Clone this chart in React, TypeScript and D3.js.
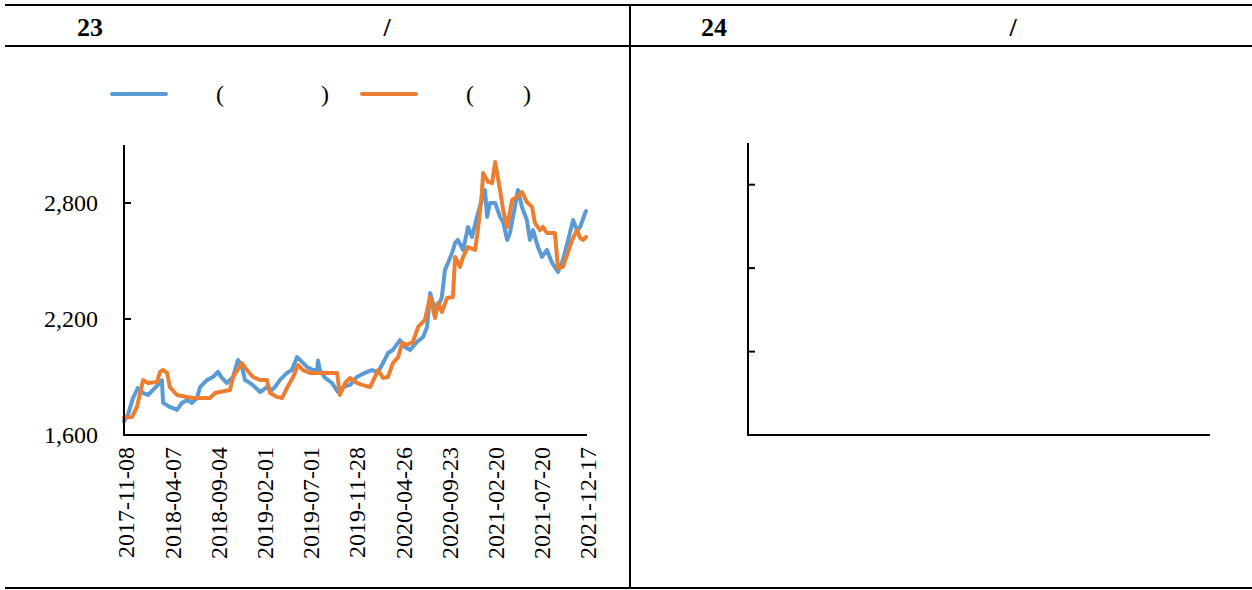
import React from "react";
import * as d3 from "d3";

const headers = [
  { num: "23", slash: "/" },
  { num: "24", slash: "/" },
];

const xTickLabels = [
  "2017-11-08", "2018-04-07", "2018-09-04", "2019-02-01", "2019-07-01", "2019-11-28",
  "2020-04-26", "2020-09-23", "2021-02-20", "2021-07-20", "2021-12-17",
];

const yTicks = [1600, 2200, 2800];
const emptyTicks = [0, 1, 2, 3];

const legendItems = [
  { color: "#5B9BD5", open: "(", close: ")", gap: 105 },
  { color: "#ED7D31", open: "(", close: ")", gap: 57 },
];

const blueSeries: [string, number][] = [
  ["2017-11-08", 1672], ["2017-11-20", 1700], ["2017-12-07", 1791], ["2017-12-23", 1843],
  ["2018-01-09", 1817], ["2018-01-25", 1807], ["2018-02-10", 1833], ["2018-02-26", 1859],
  ["2018-03-11", 1884], ["2018-03-15", 1766], ["2018-04-06", 1745], ["2018-04-29", 1730],
  ["2018-05-15", 1766], ["2018-06-01", 1781], ["2018-06-17", 1766], ["2018-07-03", 1791],
  ["2018-07-13", 1848], ["2018-08-04", 1884], ["2018-08-24", 1900], ["2018-09-09", 1926],
  ["2018-09-22", 1895], ["2018-10-08", 1869], ["2018-10-28", 1900], ["2018-11-13", 1988],
  ["2018-11-26", 1952], ["2018-12-06", 1884], ["2018-12-22", 1869], ["2019-01-07", 1848],
  ["2019-01-24", 1822], ["2019-02-15", 1848], ["2019-03-04", 1833], ["2019-03-13", 1848],
  ["2019-03-29", 1884], ["2019-04-21", 1921], ["2019-05-07", 1936], ["2019-05-24", 2003],
  ["2019-06-09", 1978], ["2019-06-25", 1952], ["2019-07-15", 1936], ["2019-07-28", 1936],
  ["2019-07-31", 1985], ["2019-08-06", 1936], ["2019-08-23", 1895], ["2019-09-14", 1869],
  ["2019-10-04", 1822], ["2019-10-20", 1848], ["2019-11-12", 1859], ["2019-12-04", 1900],
  ["2019-12-30", 1921], ["2020-01-22", 1936], ["2020-02-11", 1926], ["2020-02-27", 1972],
  ["2020-03-14", 2024], ["2020-03-30", 2040], ["2020-04-22", 2091], ["2020-05-08", 2055],
  ["2020-05-25", 2040], ["2020-06-16", 2081], ["2020-07-06", 2107], ["2020-07-19", 2159],
  ["2020-07-29", 2334], ["2020-08-07", 2283], ["2020-08-20", 2247], ["2020-09-05", 2314],
  ["2020-09-15", 2453], ["2020-09-25", 2490], ["2020-10-08", 2541], ["2020-10-18", 2593],
  ["2020-10-27", 2609], ["2020-11-13", 2557], ["2020-11-29", 2676], ["2020-12-12", 2624],
  ["2020-12-28", 2728], ["2021-01-13", 2816], ["2021-01-23", 2867], ["2021-01-30", 2728],
  ["2021-02-08", 2800], ["2021-02-25", 2800], ["2021-03-13", 2728], ["2021-03-23", 2702],
  ["2021-04-05", 2609], ["2021-04-14", 2645], ["2021-04-30", 2779], ["2021-05-10", 2867],
  ["2021-05-23", 2779], ["2021-06-08", 2712], ["2021-06-18", 2609], ["2021-06-28", 2660],
  ["2021-07-14", 2572], ["2021-07-27", 2521], ["2021-08-12", 2557], ["2021-08-29", 2490],
  ["2021-09-17", 2443], ["2021-10-03", 2505], ["2021-10-20", 2609], ["2021-11-05", 2712],
  ["2021-11-18", 2660], ["2021-11-28", 2676], ["2021-12-14", 2748], ["2021-12-17", 2758],
];

const orangeSeries: [string, number][] = [
  ["2017-11-08", 1690], ["2017-12-04", 1693], ["2017-12-20", 1745], ["2018-01-09", 1884],
  ["2018-01-25", 1869], ["2018-02-23", 1874], ["2018-03-05", 1926], ["2018-03-15", 1936],
  ["2018-03-28", 1921], ["2018-04-06", 1848], ["2018-04-29", 1807], ["2018-06-01", 1797],
  ["2018-06-20", 1791], ["2018-08-14", 1791], ["2018-08-30", 1817], ["2018-10-18", 1833],
  ["2018-10-28", 1900], ["2018-11-26", 1972], ["2018-12-12", 1936], ["2019-01-01", 1900],
  ["2019-01-24", 1884], ["2019-02-15", 1884], ["2019-02-25", 1817], ["2019-03-20", 1797],
  ["2019-04-05", 1791], ["2019-04-21", 1843], ["2019-05-11", 1900], ["2019-05-27", 1962],
  ["2019-06-12", 1936], ["2019-07-05", 1921], ["2019-10-01", 1921], ["2019-10-10", 1807],
  ["2019-10-27", 1869], ["2019-11-12", 1895], ["2019-12-04", 1869], ["2019-12-21", 1859],
  ["2020-01-16", 1848], ["2020-02-11", 1936], ["2020-02-27", 1895], ["2020-03-14", 1900],
  ["2020-03-30", 1972], ["2020-04-16", 2003], ["2020-04-29", 2076], ["2020-05-15", 2066],
  ["2020-06-03", 2081], ["2020-06-20", 2159], ["2020-07-12", 2195], ["2020-07-29", 2314],
  ["2020-08-14", 2205], ["2020-08-23", 2283], ["2020-09-05", 2236], ["2020-09-22", 2309],
  ["2020-10-11", 2314], ["2020-10-18", 2521], ["2020-11-03", 2469], ["2020-11-13", 2521],
  ["2020-11-29", 2572], ["2020-12-22", 2557], ["2020-12-31", 2660], ["2021-01-13", 2852],
  ["2021-01-17", 2955], ["2021-02-02", 2909], ["2021-02-15", 2903], ["2021-02-25", 3012],
  ["2021-03-13", 2867], ["2021-03-23", 2764], ["2021-04-05", 2676], ["2021-04-21", 2816],
  ["2021-05-07", 2831], ["2021-05-23", 2857], ["2021-06-08", 2805], ["2021-06-25", 2779],
  ["2021-07-04", 2697], ["2021-07-21", 2660], ["2021-07-30", 2676], ["2021-08-12", 2645],
  ["2021-09-07", 2645], ["2021-09-17", 2464], ["2021-10-03", 2469], ["2021-10-20", 2547],
  ["2021-11-02", 2609], ["2021-11-18", 2660], ["2021-11-28", 2619], ["2021-12-07", 2609],
  ["2021-12-17", 2624],
];

const FONT = "'Liberation Serif', 'Times New Roman', serif";
const W = 1252;
const H = 590;

export default function App() {
  const parse = d3.timeParse("%Y-%m-%d");
  const x = d3
    .scaleTime()
    .domain([parse("2017-11-08") as Date, parse("2021-12-17") as Date])
    .range([124, 586]);
  const y = d3.scaleLinear().domain([1600, 3100]).range([435, 145]);
  const yE = d3.scaleLinear().domain([0, 3.5]).range([435, 143]);
  const xE = d3.scaleLinear().domain([0, 1]).range([748, 1210]);

  const line = d3
    .line<[string, number]>()
    .x((d) => x(parse(d[0]) as Date))
    .y((d) => y(d[1]));

  const series = [
    { data: blueSeries, color: legendItems[0].color },
    { data: orangeSeries, color: legendItems[1].color },
  ];

  const legendX = [112, 362];

  return (
    <svg
      width={W}
      height={H}
      style={{ position: "absolute", left: 0, top: 0, background: "#fff" }}
      fontFamily={FONT}
    >
      <rect x={0} y={0} width={W} height={H} fill="#fff" />
      {/* table frame */}
      <line x1={5} x2={W} y1={5} y2={5} stroke="#000" strokeWidth={2} />
      <line x1={5} x2={W} y1={46} y2={46} stroke="#000" strokeWidth={2} />
      <line x1={5} x2={W} y1={588} y2={588} stroke="#000" strokeWidth={2} />
      <line x1={630} x2={630} y1={5} y2={588} stroke="#000" strokeWidth={2} />

      {headers.map((h, i) => (
        <g key={i} fontWeight="bold" fontSize={26}>
          <text x={77 + i * 624} y={36}>{h.num}</text>
          <text x={387 + i * 626} y={36} textAnchor="middle">{h.slash}</text>
        </g>
      ))}

      {/* legend */}
      {legendItems.map((l, i) => (
        <g key={i} fontSize={24}>
          <line
            x1={legendX[i]}
            x2={legendX[i] + 54}
            y1={94}
            y2={94}
            stroke={l.color}
            strokeWidth={4}
            strokeLinecap="round"
          />
          <text x={legendX[i] + 108} y={102} textAnchor="middle">{l.open}</text>
          <text x={legendX[i] + 108 + l.gap} y={102} textAnchor="middle">{l.close}</text>
        </g>
      ))}

      {/* left chart lines */}
      {series.map((s, i) => (
        <path
          key={i}
          d={line(s.data) || ""}
          fill="none"
          stroke={s.color}
          strokeWidth={4}
          strokeLinejoin="round"
          strokeLinecap="round"
        />
      ))}

      {/* left axes */}
      <line x1={124} x2={124} y1={145} y2={436} stroke="#000" strokeWidth={2} />
      <line x1={123} x2={587} y1={435} y2={435} stroke="#000" strokeWidth={2} />
      {yTicks.map((t) => (
        <g key={t}>
          <line x1={124} x2={131} y1={y(t)} y2={y(t)} stroke="#000" strokeWidth={2} />
          <text x={98} y={y(t)} dy="0.35em" textAnchor="end" fontSize={24}>
            {d3.format(",")(t)}
          </text>
        </g>
      ))}
      {xTickLabels.map((t) => {
        const px = x(parse(t) as Date);
        return (
          <text
            key={t}
            transform={`translate(${px + 2},447) rotate(-90)`}
            textAnchor="end"
            dy="0.35em"
            fontSize={24}
          >
            {t}
          </text>
        );
      })}

      {/* right empty chart */}
      <line x1={748} x2={748} y1={143} y2={436} stroke="#000" strokeWidth={2} />
      <line x1={747} x2={xE(1)} y1={435} y2={435} stroke="#000" strokeWidth={2} />
      {emptyTicks.map((t) => (
        <line key={t} x1={748} x2={755} y1={yE(t)} y2={yE(t)} stroke="#000" strokeWidth={2} />
      ))}
    </svg>
  );
}
